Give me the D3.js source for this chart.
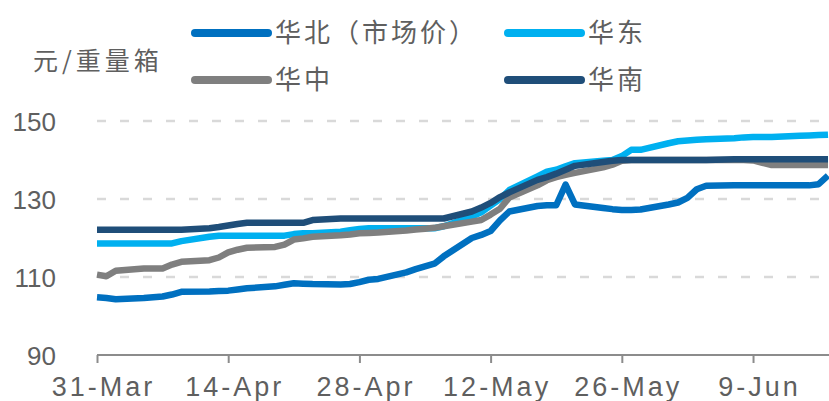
<!DOCTYPE html>
<html>
<head>
<meta charset="utf-8">
<script src="https://cdn.jsdelivr.net/npm/d3@7"></script>
<style>
  html, body { margin: 0; padding: 0; background: #fff; }
  svg { display: block; }
</style>
</head>
<body>
<svg id="chart" width="829" height="401"></svg>
<script>
// Trading days (weekdays) covered by the series
const dates = [
  "03-31","04-01","04-02","04-05","04-06","04-07","04-08","04-09",
  "04-12","04-13","04-14","04-15","04-16","04-19","04-20","04-21","04-22","04-23",
  "04-26","04-27","04-28","04-29","04-30","05-03","05-04","05-05","05-06","05-07",
  "05-10","05-11","05-12","05-13","05-14","05-17","05-18","05-19","05-20","05-21",
  "05-24","05-25","05-26","05-27","05-28","05-31","06-01","06-02","06-03","06-04",
  "06-07","06-08","06-09","06-10","06-11","06-14","06-15","06-16","06-17"
];

// 元/重量箱
const northValues = [
  104.8,104.6,104.3,104.6,104.8,105.0,105.5,106.2,
  106.3,106.4,106.5,106.8,107.1,107.6,108.0,108.4,108.3,108.2,
  108.1,108.2,108.7,109.3,109.5,111.2,112.0,112.7,113.4,115.3,
  120.0,120.8,121.8,124.5,126.8,128.2,128.4,128.4,133.7,128.6,
  127.7,127.4,127.2,127.2,127.3,128.6,129.1,130.3,132.5,133.4,
  133.5,133.5,133.5,133.5,133.5,133.5,133.5,133.8,136.0
];
const eastValues = [
  118.6,118.6,118.6,118.6,118.6,118.6,118.6,119.2,
  120.3,120.6,120.6,120.6,120.6,120.6,120.6,121.0,121.2,121.2,
  121.6,122.0,122.3,122.5,122.5,122.5,122.5,122.5,122.5,123.0,
  125.5,126.6,128.3,130.0,132.3,135.8,137.0,137.5,138.4,139.2,
  139.8,140.0,141.0,142.6,142.6,144.3,144.8,145.0,145.2,145.3,
  145.6,145.8,145.9,145.9,145.9,146.2,146.3,146.4,146.5
];
const centralValues = [
  110.6,110.2,111.6,112.2,112.2,112.2,113.2,113.9,
  114.3,115.0,116.3,117.0,117.5,117.7,118.3,119.6,119.9,120.3,
  120.7,120.9,121.2,121.3,121.4,121.9,122.2,122.4,122.6,123.0,
  124.2,124.6,126.0,127.5,130.4,133.5,134.8,135.6,136.2,136.7,
  138.1,138.8,139.8,140.0,140.0,140.0,140.0,140.0,140.0,140.0,
  140.0,140.0,139.9,139.3,138.7,138.7,138.7,138.7,138.7
];
const southValues = [
  122.1,122.1,122.1,122.1,122.1,122.1,122.1,122.1,
  122.5,122.8,123.2,123.6,123.9,123.9,123.9,123.9,123.9,124.6,
  125.0,125.0,125.0,125.0,125.0,125.0,125.0,125.0,125.0,125.0,
  126.8,127.8,129.0,130.5,131.7,134.9,135.6,136.5,137.5,138.5,
  139.5,139.8,140.0,140.0,140.0,140.0,140.0,140.0,140.0,140.0,
  140.2,140.2,140.2,140.2,140.2,140.2,140.2,140.2,140.2
];

const seriesNames = ["华北（市场价）", "华东", "华中", "华南"];
const seriesColors = ["#0070C0", "#00B0F0", "#7F7F7F", "#1F4E79"];
const yTicks = [90, 110, 130, 150];
const xTickLabels = ["31-Mar", "14-Apr", "28-Apr", "12-May", "26-May", "9-Jun"];
const unitLabel = "元/重量箱";

const year = "2021";
const parse = d3.utcParse("%Y-%m-%d");
const parseTick = d3.utcParse("%d-%b-%Y");
const dateObjs = dates.map(d => parse(year + "-" + d));
const tickDates = xTickLabels.map(t => parseTick(t + "-" + year));

const svg = d3.select("#chart");
const plotLeft = 97, plotRight = 828, plotTop = 121, plotBottom = 355;

const x = d3.scaleUtc()
  .domain([dateObjs[0], dateObjs[dateObjs.length - 1]])
  .range([plotLeft, plotRight]);
const y = d3.scaleLinear().domain([90, 150]).range([plotBottom, plotTop]);

const labelFont = "'Liberation Sans', Arial, sans-serif";
const cjkFont = "'Noto Sans CJK SC', 'Noto Sans', sans-serif";
const textColor = "#5f5f5f";

// dashed horizontal gridlines
svg.append("g")
  .selectAll("line")
  .data(yTicks.filter(v => v > 90))
  .join("line")
  .attr("x1", plotLeft).attr("x2", 829)
  .attr("y1", d => y(d)).attr("y2", d => y(d))
  .attr("stroke", "#d9d9d9")
  .attr("stroke-width", 2.5)
  .attr("stroke-dasharray", "9,14");

// y axis labels
const yAxis = d3.axisLeft(y).tickValues(yTicks).tickSize(0).tickPadding(0);
const gy = svg.append("g").attr("transform", "translate(56,0)").call(yAxis);
gy.select(".domain").remove();
gy.selectAll("text")
  .attr("fill", textColor)
  .attr("font-family", labelFont)
  .attr("font-size", 26)
  .attr("dy", "0.35em");

// x axis
const xAxis = d3.axisBottom(x)
  .tickValues(tickDates)
  .tickFormat((d, i) => xTickLabels[i])
  .tickSizeInner(8).tickSizeOuter(0).tickPadding(14);
const gx = svg.append("g").attr("transform", `translate(0,${plotBottom})`).call(xAxis);
gx.select(".domain").attr("stroke", "#8c8c8c").attr("stroke-width", 2)
  .attr("d", `M${plotLeft},0H829`);
gx.selectAll(".tick line").attr("stroke", "#8c8c8c").attr("stroke-width", 2);
gx.selectAll(".tick text")
  .attr("fill", textColor)
  .attr("font-family", labelFont)
  .attr("font-size", 27)
  .attr("letter-spacing", 3)
  .attr("dx", 6)
  .attr("dy", "0.71em");

// series lines
const allValues = [northValues, eastValues, centralValues, southValues];
const line = d3.line()
  .x((d, i) => x(dateObjs[i]))
  .y(d => y(d));

svg.append("g")
  .selectAll("path")
  .data(allValues)
  .join("path")
  .attr("d", d => line(d))
  .attr("fill", "none")
  .attr("stroke", (d, i) => seriesColors[i])
  .attr("stroke-width", 6.5)
  .attr("stroke-linejoin", "round")
  .attr("stroke-linecap", "butt");

// unit label
svg.append("text")
  .attr("x", 33).attr("y", 61)
  .attr("dy", "0.35em")
  .attr("fill", textColor)
  .attr("font-family", cjkFont)
  .attr("font-size", 25)
  .attr("letter-spacing", 4)
  .text(unitLabel);

// legend: two rows, two columns
const legendPos = [
  { x: 195, y: 33 }, { x: 508, y: 33 },
  { x: 195, y: 80 }, { x: 508, y: 80 }
];
const lg = svg.append("g")
  .selectAll("g")
  .data(seriesNames)
  .join("g")
  .attr("transform", (d, i) => `translate(${legendPos[i].x},${legendPos[i].y})`);
lg.append("line")
  .attr("x1", 0).attr("x2", 73)
  .attr("y1", 0).attr("y2", 0)
  .attr("stroke", (d, i) => seriesColors[i])
  .attr("stroke-width", 8)
  .attr("stroke-linecap", "round");
lg.append("text")
  .attr("x", 80)
  .attr("dy", "0.35em")
  .attr("fill", textColor)
  .attr("font-family", cjkFont)
  .attr("font-size", 26)
  .attr("letter-spacing", 3)
  .text(d => d);
</script>
</body>
</html>
